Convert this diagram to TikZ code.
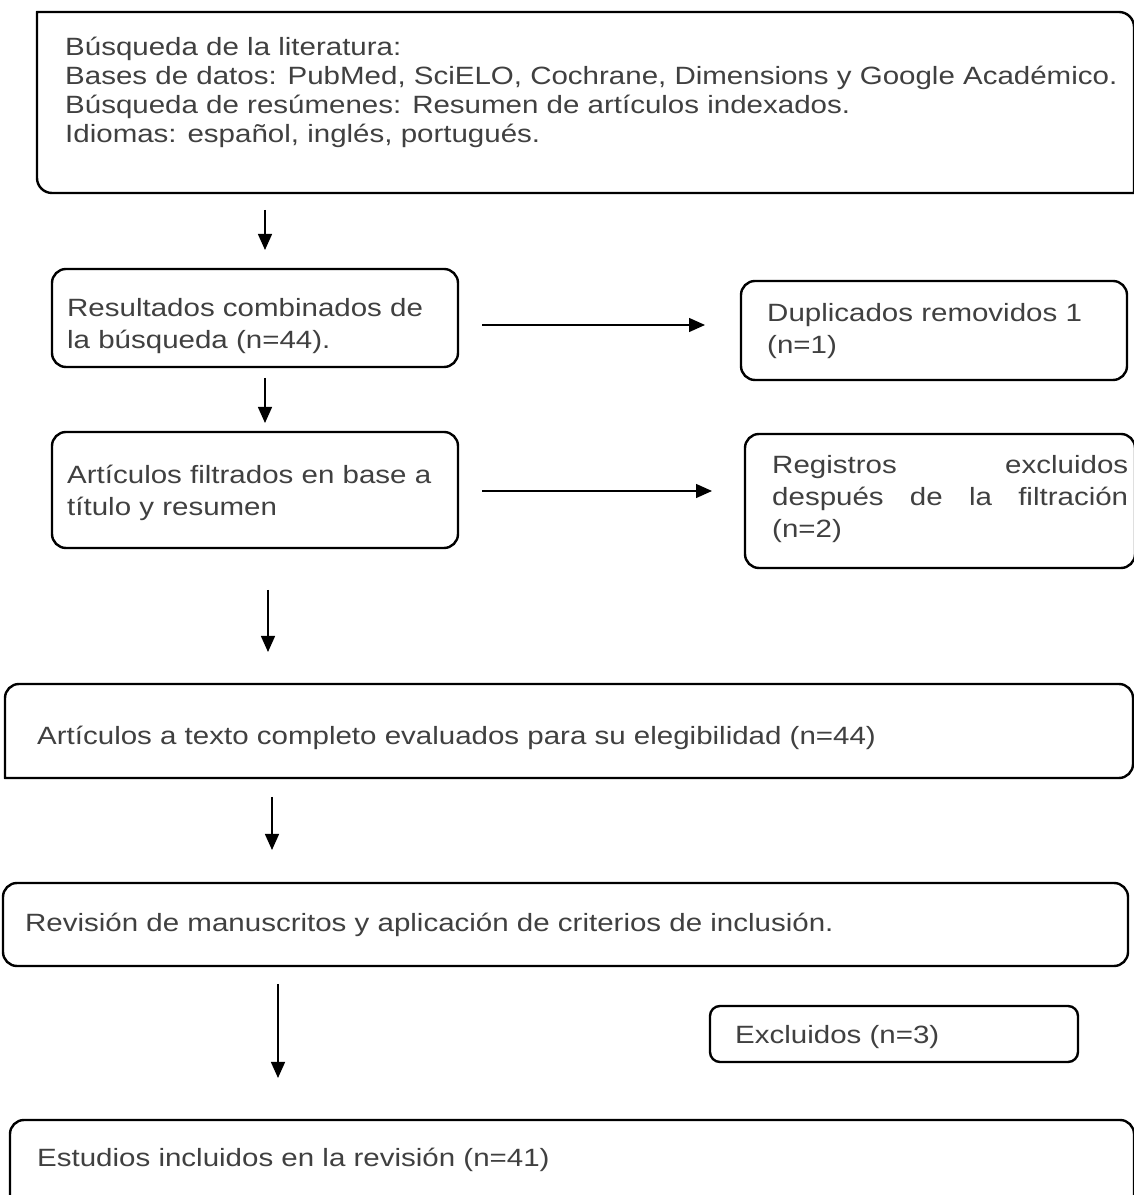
\documentclass[tikz,border=0pt]{standalone}
\usepackage{fontspec}
\setmainfont[FakeStretch=1.18]{Liberation Sans}
\usetikzlibrary{arrows.meta}
\definecolor{txt}{HTML}{404040}
\tikzset{
  boxline/.style={line width=2.4pt, draw=black},
  arr/.style={line width=1.4pt, draw=black, -{Triangle[length=16pt,width=14pt]}},
  lbl/.style={anchor=west, inner sep=0pt, align=left, text=txt, font=\fontsize{25}{32}\selectfont},
}
% #1 x-left, #2 y-top, #3 x-right, #4 y-bottom, radii: #5 NW, #6 NE, #7 SE, #8 SW
\newcommand\rbox[8]{%
  \draw[boxline] (#1+#5,#2) -- (#3-#6,#2) arc[start angle=90,end angle=0,radius=#6]
    -- (#3,#4+#7) arc[start angle=0,end angle=-90,radius=#7]
    -- (#1+#8,#4) arc[start angle=270,end angle=180,radius=#8]
    -- (#1,#2-#5) arc[start angle=180,end angle=90,radius=#5] -- cycle;}
\begin{document}
\begin{tikzpicture}[x=1pt,y=1pt]
\useasboundingbox (0,0) rectangle (1134,1195);
\fill[white] (0,0) rectangle (1134,1195);
\clip (0,0) rectangle (1134,1195);

% boxes
\rbox{37}{1183}{1134}{1002}{0.01}{15}{0.01}{15}
\rbox{52}{926}{458}{828}{14}{14}{14}{14}
\rbox{741}{914}{1127}{815}{14}{14}{14}{14}
\rbox{52}{763}{458}{647}{14}{14}{14}{14}
\rbox{745}{761}{1135}{627}{14}{14}{14}{14}
\rbox{5}{511}{1133}{417}{14}{14}{14}{0.01}
\rbox{3}{312}{1128}{229}{14}{14}{14}{14}
\rbox{710}{189}{1078}{133}{10}{10}{10}{10}
\rbox{10}{75}{1134}{-20}{14}{14}{14}{14}

% texts
\node[lbl, font=\fontsize{25}{29}\selectfont] (t1) at (65,1102.5)
  {Búsqueda de la literatura:\\
   Bases de datos: PubMed, SciELO, Cochrane, Dimensions y Google Académico.\\
   Búsqueda de resúmenes: Resumen de artículos indexados.\\
   Idiomas: español, inglés, portugués.};
\node[lbl] (t2) at (67,869) {Resultados combinados de\\la búsqueda (n=44).};
\node[lbl] (t3) at (767,864) {Duplicados removidos 1\\(n=1)};
\node[lbl] (t4) at (67,702) {Artículos filtrados en base a\\título y resumen};
\node[lbl] (t5) at (772,696) {\makebox[356pt][s]{Registros excluidos}\\
   \makebox[356pt][s]{después de la filtración}\\(n=2)};
\node[lbl] (t6) at (37,457) {Artículos a texto completo evaluados para su elegibilidad (n=44)};
\node[lbl] (t7) at (25,270) {Revisión de manuscritos y aplicación de criterios de inclusión.};
\node[lbl] (t8) at (735,158) {Excluidos (n=3)};
\node[lbl] (t9) at (37,35) {Estudios incluidos en la revisión (n=41)};

% connector end points
\coordinate (a1s) at (265,985); \coordinate (a1e) at (265,945);
\coordinate (a2s) at (482,870); \coordinate (a2e) at (705,870);
\coordinate (a3s) at (265,817); \coordinate (a3e) at (265,772);
\coordinate (a4s) at (482,704); \coordinate (a4e) at (712,704);
\coordinate (a5s) at (268,605); \coordinate (a5e) at (268,543);
\coordinate (a6s) at (272,398); \coordinate (a6e) at (272,345);
\coordinate (a7s) at (278,211); \coordinate (a7e) at (278,117);

\draw[arr] (a1s) -- (a1e);
\draw[arr] (a2s) -- (a2e);
\draw[arr] (a3s) -- (a3e);
\draw[arr] (a4s) -- (a4e);
\draw[arr] (a5s) -- (a5e);
\draw[arr] (a6s) -- (a6e);
\draw[arr] (a7s) -- (a7e);
\end{tikzpicture}
\end{document}
